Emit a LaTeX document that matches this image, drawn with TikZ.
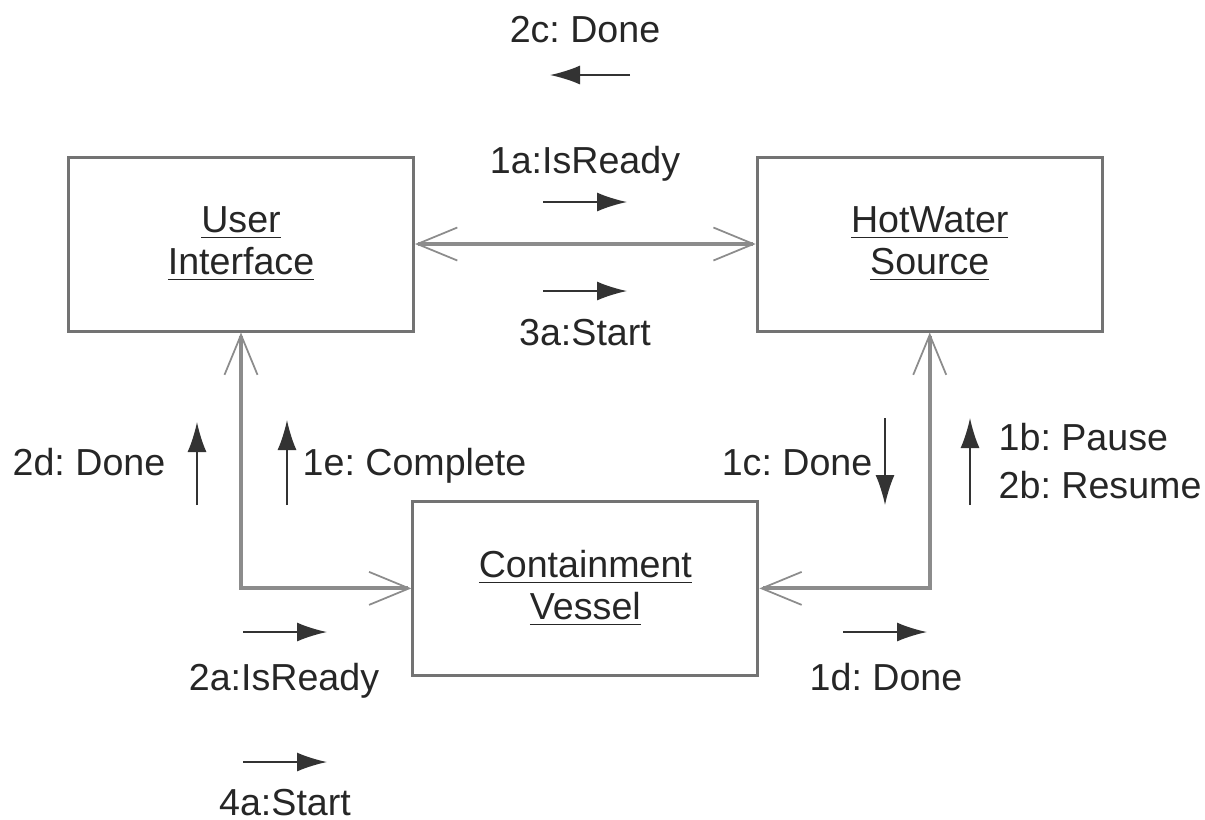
\documentclass[tikz,border=0pt]{standalone}
\usepackage{fontspec}
\setmainfont{Liberation Sans}
\frenchspacing
\usetikzlibrary{arrows.meta}

\begin{document}
\begin{tikzpicture}[x=1mm, y=1mm, node distance={48.7mm}, font=\fontsize{10.7}{12}\selectfont,
  obj/.style = {draw=black!55, line width=0.3mm, minimum width=34.5mm, minimum height=17.4mm, inner sep=0pt, align=center, text=black!85},
  link/.style = {draw=black!45, line width=0.4mm, >={Straight Barb[length=4mm,width=3.3mm,line width=0.5pt]}, <->},
  msg/.style = {draw=black!80, line width=0.5pt, >={Latex[length=3mm,width=1.9mm]}, ->},
  lbl/.style = {inner sep=0pt, text=black!85}]
\useasboundingbox (0,0) rectangle (120.5,-81.9);
% objects
\node[obj] (ui) at (24.1,-24.4) {\underline{User}\\\underline{Interface}};
\node[obj] (cv) [below right of=ui] {\underline{Containment}\\\underline{Vessel}};
\node[obj] (hws) [above right of=cv] {\underline{HotWater}\\\underline{Source}};
% links
\draw[link] (ui) -- (hws);
\draw[link] (ui) |- (cv);
\draw[link] (hws) |- (cv);
% messages
\node[lbl, anchor=base] (l2c) at (58.5,-4.2) {2c: Done};
\coordinate (t2c) at (63,-7.5); \coordinate (h2c) at (55,-7.5);
\draw[msg] (t2c) -- (h2c);
\node[lbl, anchor=base] (l1a) at (58.5,-17.3) {1a:IsReady};
\coordinate (t1a) at (54.3,-20.2); \coordinate (h1a) at (62.7,-20.2);
\draw[msg] (t1a) -- (h1a);
\node[lbl, anchor=base] (l3a) at (58.5,-34.5) {3a:Start};
\coordinate (t3a) at (54.3,-29.1); \coordinate (h3a) at (62.7,-29.1);
\draw[msg] (t3a) -- (h3a);
\node[lbl, anchor=base east] (l2d) at (16.6,-47.5) {2d: Done};
\coordinate (t2d) at (19.7,-50.5); \coordinate (h2d) at (19.7,-42.2);
\draw[msg] (t2d) -- (h2d);
\node[lbl, anchor=base west] (l1e) at (30.2,-47.5) {1e: Complete};
\coordinate (t1e) at (28.7,-50.5); \coordinate (h1e) at (28.7,-42);
\draw[msg] (t1e) -- (h1e);
\node[lbl, anchor=base east] (l1c) at (87.3,-47.5) {1c: Done};
\coordinate (t1c) at (88.5,-41.8); \coordinate (h1c) at (88.5,-50.5);
\draw[msg] (t1c) -- (h1c);
\node[lbl, anchor=west, align=left, font=\fontsize{10.7}{13.6}\selectfont] (l1b) at (99.8,-46.1) {1b: Pause\\2b: Resume};
\coordinate (t1b) at (97,-50.5); \coordinate (h1b) at (97,-41.8);
\draw[msg] (t1b) -- (h1b);
\node[lbl, anchor=base] (l2a) at (28.4,-69.05) {2a:IsReady};
\coordinate (t2a) at (24.3,-63.2); \coordinate (h2a) at (32.7,-63.2);
\draw[msg] (t2a) -- (h2a);
\node[lbl, anchor=base] (l4a) at (28.5,-81.5) {4a:Start};
\coordinate (t4a) at (24.3,-76.2); \coordinate (h4a) at (32.7,-76.2);
\draw[msg] (t4a) -- (h4a);
\node[lbl, anchor=base] (l1d) at (88.6,-69.05) {1d: Done};
\coordinate (t1d) at (84.3,-63.2); \coordinate (h1d) at (92.7,-63.2);
\draw[msg] (t1d) -- (h1d);
\end{tikzpicture}
\end{document}
